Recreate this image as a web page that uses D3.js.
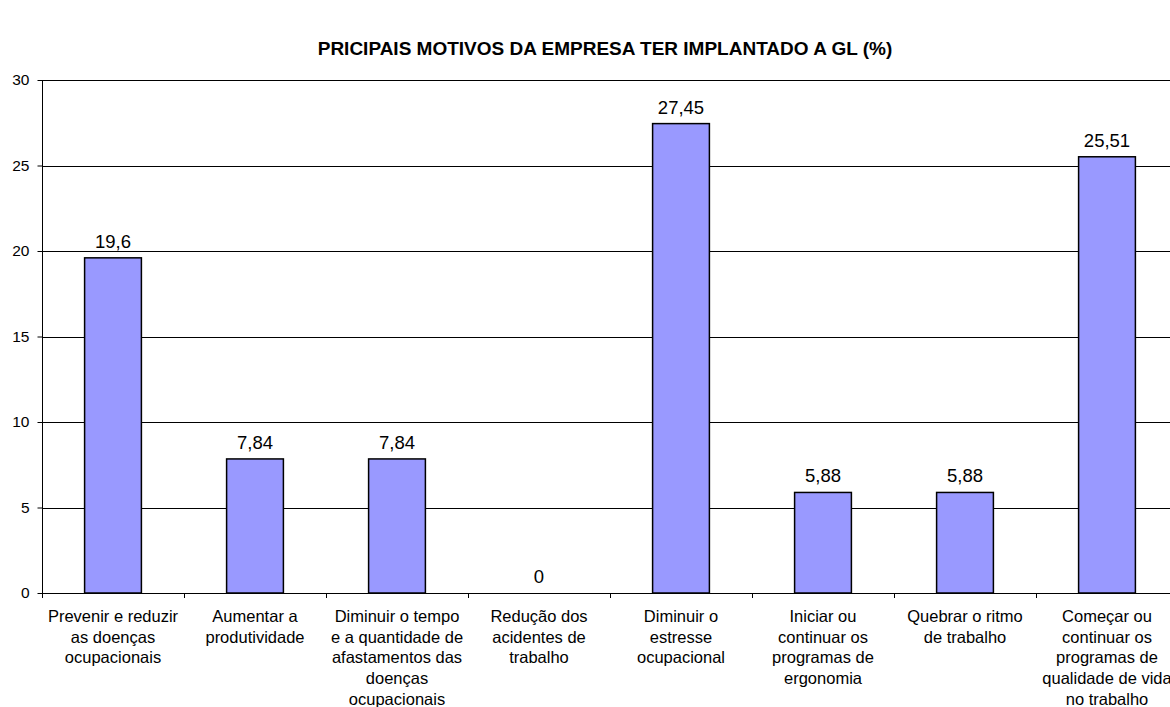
<!DOCTYPE html>
<html>
<head>
<meta charset="utf-8">
<script src="https://cdn.jsdelivr.net/npm/d3@7"></script>
<style>
  html, body { margin: 0; padding: 0; background: #fff; }
  svg { display: block; font-family: "Liberation Sans", Arial, sans-serif; }
</style>
</head>
<body>
<svg id="chart" width="1170" height="707"></svg>
<script>
// Reasons for adopting workplace gymnastics (GL), in percent
const categories = [
  "Prevenir e reduzir\nas doenças\nocupacionais",
  "Aumentar a\nprodutividade",
  "Diminuir o tempo\ne a quantidade de\nafastamentos das\ndoenças\nocupacionais",
  "Redução dos\nacidentes de\ntrabalho",
  "Diminuir o\nestresse\nocupacional",
  "Iniciar ou\ncontinuar os\nprogramas de\nergonomia",
  "Quebrar o ritmo\nde trabalho",
  "Começar ou\ncontinuar os\nprogramas de\nqualidade de vida\nno trabalho"
];
const values = [19.6, 7.84, 7.84, 0, 27.45, 5.88, 5.88, 25.51];
const yTicks = [0, 5, 10, 15, 20, 25, 30];
const title = "PRICIPAIS MOTIVOS DA EMPRESA TER IMPLANTADO A GL (%)";

const svg = d3.select("#chart");
const plot = { left: 42, right: 1178, top: 80, bottom: 593 };

const x = d3.scaleBand()
  .domain(d3.range(categories.length))
  .range([plot.left, plot.right])
  .padding(0);

const y = d3.scaleLinear()
  .domain([0, 30])
  .range([plot.bottom, plot.top]);

const fmt = v => String(v).replace(".", ",");

// Title
svg.append("text")
  .attr("x", 605)
  .attr("y", 55)
  .attr("text-anchor", "middle")
  .style("font-weight", "bold")
  .style("font-size", "19px")
  .text(title);

// Horizontal gridlines
svg.append("g")
  .selectAll("line")
  .data(yTicks.filter(d => d > 0))
  .join("line")
  .attr("x1", plot.left)
  .attr("x2", plot.right)
  .attr("y1", d => Math.round(y(d)) + 0.5)
  .attr("y2", d => Math.round(y(d)) + 0.5)
  .attr("stroke", "#000")
  .attr("stroke-width", 1);

// Y axis
const yAxis = svg.append("g")
  .attr("transform", `translate(${plot.left + 0.5},0)`)
  .attr("font-family", null)
  .call(d3.axisLeft(y).tickValues(yTicks).tickSize(5).tickPadding(8).tickFormat(d => d));
yAxis.attr("font-family", null);
yAxis.select(".domain").attr("stroke", "#000").attr("d", `M0,${plot.top}V${plot.bottom}`);
yAxis.selectAll(".tick line").attr("stroke", "#000");
yAxis.selectAll(".tick text")
  .style("font-size", "15.5px")
  .attr("fill", "#000");

// Bars
const barW = x.bandwidth() * 0.4;
svg.append("g")
  .selectAll("rect")
  .data(values)
  .join("rect")
  .attr("x", (d, i) => x(i) + (x.bandwidth() - barW) / 2)
  .attr("y", d => y(d))
  .attr("width", barW)
  .attr("height", d => y(0) - y(d))
  .attr("fill", "#9999ff")
  .attr("stroke", "#000")
  .attr("stroke-width", 1.5);

// X axis line and category separators
const xAxisG = svg.append("g");
xAxisG.append("line")
  .attr("x1", plot.left)
  .attr("x2", plot.right)
  .attr("y1", Math.round(y(0)) + 0.5)
  .attr("y2", Math.round(y(0)) + 0.5)
  .attr("stroke", "#000")
  .attr("stroke-width", 1.2);
xAxisG.selectAll("line.sep")
  .data(d3.range(categories.length + 1))
  .join("line")
  .attr("class", "sep")
  .attr("x1", i => Math.round(plot.left + i * x.step()) + 0.5)
  .attr("x2", i => Math.round(plot.left + i * x.step()) + 0.5)
  .attr("y1", y(0))
  .attr("y2", y(0) + 5)
  .attr("stroke", "#000");

// Category labels, one tspan per line
const labels = svg.append("g")
  .selectAll("text")
  .data(categories)
  .join("text")
  .attr("text-anchor", "middle")
  .style("font-size", "16.5px")
  .attr("x", (d, i) => x(i) + x.bandwidth() / 2)
  .attr("y", 622);
labels.each(function(d) {
  const t = d3.select(this);
  d.split("\n").forEach((line, k) => {
    t.append("tspan")
      .attr("x", t.attr("x"))
      .attr("dy", k === 0 ? 0 : 20.7)
      .text(line);
  });
});

// Value labels
svg.append("g")
  .selectAll("text")
  .data(values)
  .join("text")
  .attr("text-anchor", "middle")
  .style("font-size", "18.5px")
  .attr("x", (d, i) => x(i) + x.bandwidth() / 2)
  .attr("y", d => y(d) - 10)
  .text(d => fmt(d));
</script>
</body>
</html>
